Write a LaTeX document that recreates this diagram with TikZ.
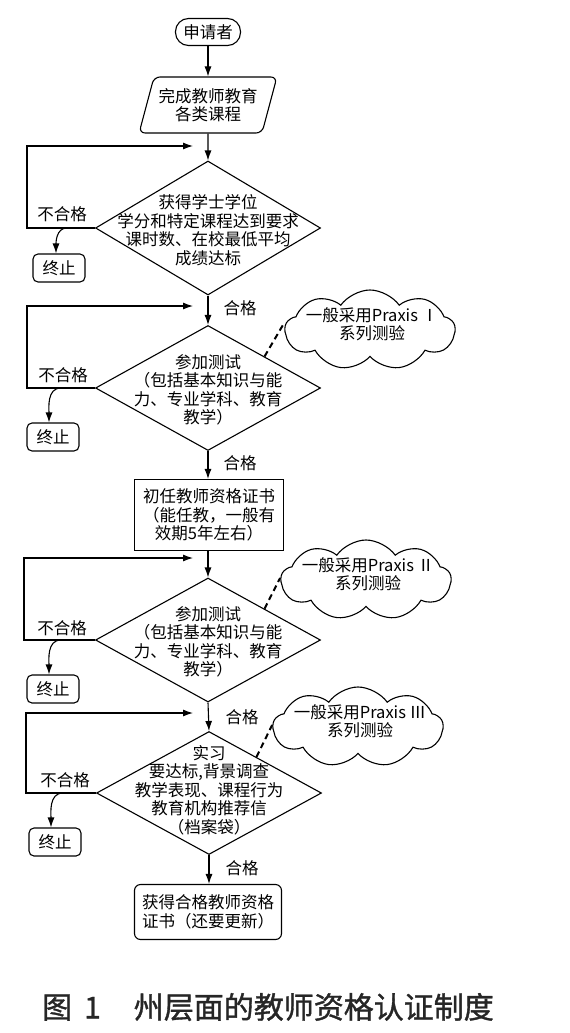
\documentclass[tikz,border=0pt]{standalone}
\usepackage{fontspec}
\setmainfont{Noto Sans CJK SC}
\newfontfamily\capfont[FakeBold=1.2]{Noto Sans CJK SC}
\usetikzlibrary{arrows.meta,shapes.geometric,shapes.symbols,calc}

\begin{document}
\begin{tikzpicture}[x=1pt,y=-1pt,line width=1.1pt,
		font=\fontsize{16.5}{18.5}\selectfont,
		arr/.style={-{Latex[length=10pt,width=7pt]}},
		startbox/.style={draw,rounded corners=13pt,minimum width=65pt,minimum height=27pt,inner sep=0pt},
		iobox/.style={draw,trapezium,trapezium left angle=68,trapezium right angle=112,trapezium stretches=true,rounded corners=6pt,minimum width=138pt,minimum height=56pt,inner sep=0pt,align=center},
		decision/.style={draw,diamond,minimum width=225pt,minimum height=125pt,inner sep=0pt},
		stopbox/.style={draw,rounded corners=5pt,minimum width=52pt,minimum height=28pt,inner sep=0pt},
		procbox/.style={draw,minimum width=149pt,minimum height=71pt,inner sep=0pt,align=center},
		note/.style={draw,cloud,cloud puffs=9,cloud puff arc=110,minimum width=170pt,minimum height=80pt,inner sep=0pt},
		link/.style={line width=2pt,dash pattern=on 6pt off 4pt},
		dtext/.style={align=center,inner sep=0pt}]
	\useasboundingbox (0,0) rectangle (570,1033);

	\node[startbox] (apply) at (208,32) {申请者};
	\node[iobox] (course) at (208,105) {完成教师教育\\各类课程};
	\node[decision,minimum height=134pt] (degree) at (208,228) {};
	\node[dtext] (degreetxt) at (208,230) {获得学士学位\\学分和特定课程达到要求\\课时数、在校最低平均\\成绩达标};
	\node[decision] (test1) at (208,388) {};
	\node[dtext] (test1txt) at (208,390) {参加测试\\（包括基本知识与能\\力、专业学科、教育\\教学）};
	\node[procbox] (initial) at (209,515) {初任教师资格证书\\（能任教，一般有\\效期5年左右）};
	\node[decision,minimum height=124pt] (test2) at (208,640) {};
	\node[dtext] (test2txt) at (208,642) {参加测试\\（包括基本知识与能\\力、专业学科、教育\\教学）};
	\node[decision,minimum height=123pt] (intern) at (209,793) {};
	\node[dtext] (interntxt) at (209,790) {实习\\要达标,背景调查\\教学表现、课程行为\\教育机构推荐信\\（档案袋）};
	\node[procbox,rounded corners=6pt,minimum height=55pt,minimum width=147pt] (final) at (208,912) {获得合格教师资格\\证书（还要更新）};

	\node[stopbox] (stop1) at (59,268) {终止};
	\node[stopbox] (stop2) at (53,437) {终止};
	\node[stopbox] (stop3) at (53,689) {终止};
	\node[stopbox] (stop4) at (55,842) {终止};

	\node[note] (praxis1) at (370,330) {};
	\node[dtext] (praxis1txt) at (372,324) {一般采用Praxis Ⅰ\\系列测验};
	\node[note] (praxis2) at (366,580) {};
	\node[dtext] (praxis2txt) at (368,574) {一般采用Praxis Ⅱ\\系列测验};
	\node[note] (praxis3) at (358,727) {};
	\node[dtext] (praxis3txt) at (360,721) {一般采用Praxis Ⅲ\\系列测验};

	\coordinate (back1) at (193,146);
	\coordinate (back2) at (193,306);
	\coordinate (back3) at (193,558);
	\coordinate (back4) at (193,713);

	\draw[arr] (apply) -- (course);
	\draw[arr] (course) -- (degree.north);
	\draw[arr] (degree.south) -- (test1.north);
	\draw[arr] (test1.south) -- (initial.north -| test1.south);
	\draw[arr] (initial.south -| test2.north) -- (test2.north);
	\draw[arr] (test2.south) -- (intern.north);
	\draw[arr] (intern.south) -- (final.north -| intern.south);

	\draw[arr] (degree.west) -- ++(-68,0) |- (back1);
	\draw[arr] (test1.west) -- ++(-68,0) |- (back2);
	\draw[arr] (test2.west) -- ++(-71,0) |- (back3);
	\draw[arr] (intern.west) -- ++(-70,0) |- (back4);

	\draw[arr] ([xshift=8pt]stop1.north |- degree.west) to[out=180,in=90] ([xshift=-3pt]stop1.north);
	\draw[arr] ([xshift=8pt]stop2.north |- test1.west) to[out=180,in=90] ([xshift=-4pt]stop2.north);
	\draw[arr] ([xshift=8pt]stop3.north |- test2.west) to[out=180,in=90] ([xshift=-4pt]stop3.north);
	\draw[arr] ([xshift=8pt]stop4.north |- intern.west) to[out=180,in=90] ([xshift=-4pt]stop4.north);

	\draw[link] ($(test1.north)!0.5!(test1.east)$) -- ([yshift=7pt]praxis1.west);
	\draw[link] ($(test2.north)!0.5!(test2.east)$) -- ([yshift=2pt]praxis2.west);
	\draw[link] ($(intern.north)!0.42!(intern.east)$) -- ([yshift=2pt]praxis3.west);

	\node (fail1) at (62,214) {不合格};
	\node (fail2) at (63,375) {不合格};
	\node (fail3) at (62,628) {不合格};
	\node (fail4) at (65,780) {不合格};
	\node (pass1) at (240,308) {合格};
	\node (pass2) at (240,463) {合格};
	\node (pass3) at (242,717) {合格};
	\node (pass4) at (242,868) {合格};

	\node[font=\fontsize{30}{34}\capfont,text=black!85] (caption) at (268,1007) {图\hspace{0.4em}1\hspace{1.1em}州层面的教师资格认证制度};
\end{tikzpicture}
\end{document}
